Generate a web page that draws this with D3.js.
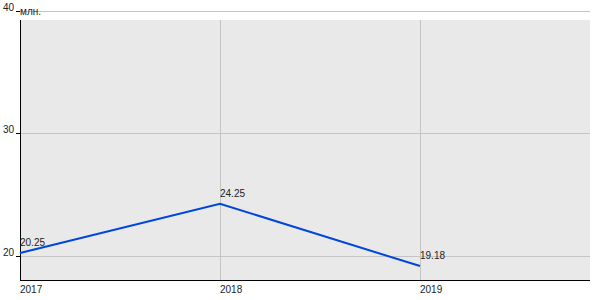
<!DOCTYPE html>
<html>
<head>
<meta charset="utf-8">
<script src="https://cdn.jsdelivr.net/npm/d3@7"></script>
<style>
  body { margin: 0; background: #fff; }
  svg { display: block; font-family: Arial, 'Liberation Sans', sans-serif; }
</style>
</head>
<body>
<div id="chart"></div>
<script>
const years = [2017, 2018, 2019];
const values = [20.25, 24.25, 19.18];
const yTicks = [20, 30, 40];
const unitLabel = 'млн.';

const width = 600;
const height = 300;
const plot = { left: 20, right: 590, top: 20, bottom: 280 };

const svg = d3.select('#chart').append('svg')
  .attr('width', width)
  .attr('height', height);

const x = d3.scaleLinear().domain([2017, 2019]).range([20, 420]);
const y = d3.scaleLinear().domain([20, 40]).range([256, 10.5]);

// plot background
svg.append('rect')
  .attr('x', plot.left)
  .attr('y', plot.top)
  .attr('width', plot.right - plot.left)
  .attr('height', plot.bottom - plot.top)
  .attr('fill', '#e9e9e9');

// horizontal grid
svg.append('g')
  .selectAll('line')
  .data(yTicks)
  .join('line')
  .attr('x1', plot.left)
  .attr('x2', plot.right)
  .attr('y1', d => Math.round(y(d)) + 0.5)
  .attr('y2', d => Math.round(y(d)) + 0.5)
  .attr('stroke', '#c4c4c4');

// vertical grid
svg.append('g')
  .selectAll('line')
  .data(years.slice(1))
  .join('line')
  .attr('x1', d => Math.round(x(d)) + 0.5)
  .attr('x2', d => Math.round(x(d)) + 0.5)
  .attr('y1', plot.top)
  .attr('y2', plot.bottom)
  .attr('stroke', '#c4c4c4');

// axes lines
svg.append('line')
  .attr('x1', plot.left + 0.5).attr('x2', plot.left + 0.5)
  .attr('y1', plot.top).attr('y2', plot.bottom)
  .attr('stroke', '#000');
svg.append('line')
  .attr('x1', plot.left).attr('x2', plot.right)
  .attr('y1', plot.bottom + 0.5).attr('y2', plot.bottom + 0.5)
  .attr('stroke', '#000');

// y ticks + labels
const yt = svg.append('g');
yt.selectAll('line')
  .data(yTicks)
  .join('line')
  .attr('x1', 16).attr('x2', plot.left)
  .attr('y1', d => Math.round(y(d)) + 0.5)
  .attr('y2', d => Math.round(y(d)) + 0.5)
  .attr('stroke', '#000');
yt.selectAll('text')
  .data(yTicks)
  .join('text')
  .attr('x', 14)
  .attr('y', d => Math.round(y(d)))
  .attr('text-anchor', 'end')
  .attr('font-size', 10)
  .attr('fill', '#222')
  .text(d => d);

svg.append('text')
  .attr('x', 20)
  .attr('y', 15)
  .attr('font-size', 10)
  .attr('fill', '#222')
  .text(unitLabel);

// x labels
svg.append('g')
  .selectAll('text')
  .data(years)
  .join('text')
  .attr('x', d => x(d))
  .attr('y', 293)
  .attr('font-size', 10)
  .attr('fill', '#222')
  .text(d => d);

// line
const data = years.map((d, i) => ({ year: d, value: values[i] }));
svg.append('path')
  .datum(data)
  .attr('fill', 'none')
  .attr('stroke', '#0046dc')
  .attr('stroke-width', 2)
  .attr('d', d3.line().x(d => x(d.year)).y(d => y(d.value)));

// value labels
svg.append('g')
  .selectAll('text')
  .data(data)
  .join('text')
  .attr('x', d => x(d.year))
  .attr('y', d => y(d.value) - 7)
  .attr('font-size', 10)
  .attr('fill', '#222')
  .text(d => d.value.toFixed(2));
</script>
</body>
</html>
